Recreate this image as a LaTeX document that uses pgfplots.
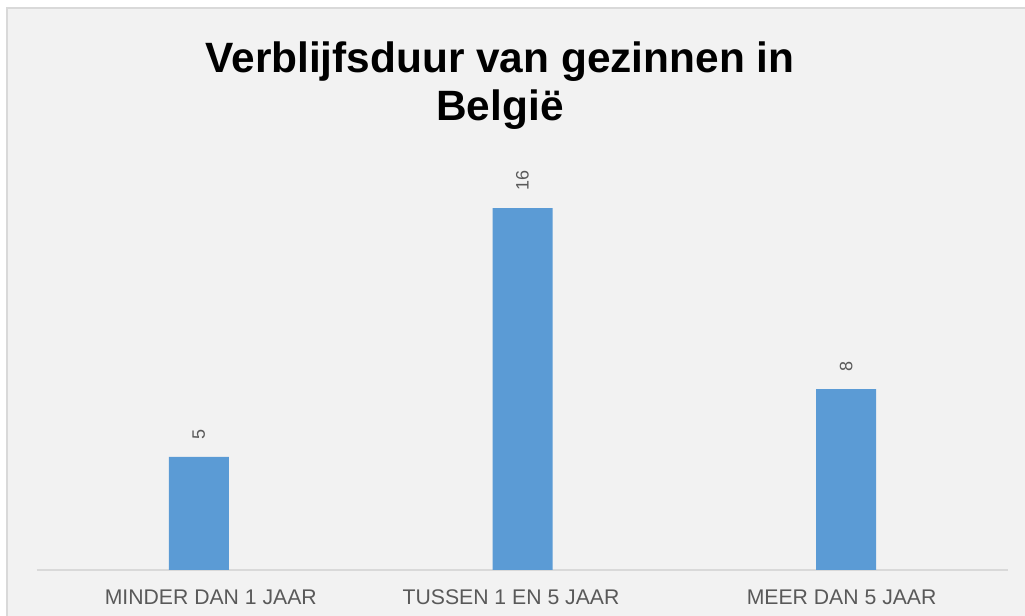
\documentclass[border=0pt]{standalone}
\usepackage{fontspec}
\setmainfont{Liberation Sans}
\usepackage{pgfplots}
\pgfplotsset{compat=1.18}
\definecolor{barblue}{HTML}{5B9BD5}
\definecolor{bgc}{HTML}{F2F2F2}
\definecolor{borderc}{HTML}{D9D9D9}
\definecolor{labelc}{HTML}{595959}
\begin{document}
\begin{tikzpicture}
\path[use as bounding box] (-27.75pt,-34.5pt) rectangle (741pt,427.5pt);
\draw[fill=bgc, draw=borderc, line width=1.5pt] (-22.5pt,-60pt) rectangle (780pt,421.5pt);
\begin{axis}[
  scale only axis, width=728.25pt, height=305.25pt,
  ymin=0, ymax=18, xmin=-0.5, xmax=2.5,
  /pgf/number format/assume math mode=true,
  axis y line=none, axis x line*=bottom,
  x axis line style={draw=borderc, line width=1.3pt},
  xtick={0.037,0.9645,1.986},
  xticklabels={MINDER DAN 1 JAAR, TUSSEN 1 EN 5 JAAR, MEER DAN 5 JAAR},
  major tick length=0pt,
  xticklabel style={font=\fontsize{15.9}{18}\selectfont, text=labelc, inner sep=0pt, anchor=base, yshift=-26.25pt},
  ybar, bar width=45pt,
  nodes near coords,
  nodes near coords style={font=\fontsize{13.5}{16}\selectfont, text=labelc, inner sep=0pt, yshift=12.75pt, rotate=90, anchor=west},
  title={Verblijfsduur van gezinnen in\\België},
  title style={font=\fontsize{31.8}{36}\selectfont\bfseries, align=center, inner sep=0pt, anchor=north, at={(axis description cs:0.4768,1.2777)}},
  clip=false,
]
\addplot[fill=barblue, draw=none] coordinates {(0,5) (1,16) (2,8)};
\end{axis}
\end{tikzpicture}
\end{document}
